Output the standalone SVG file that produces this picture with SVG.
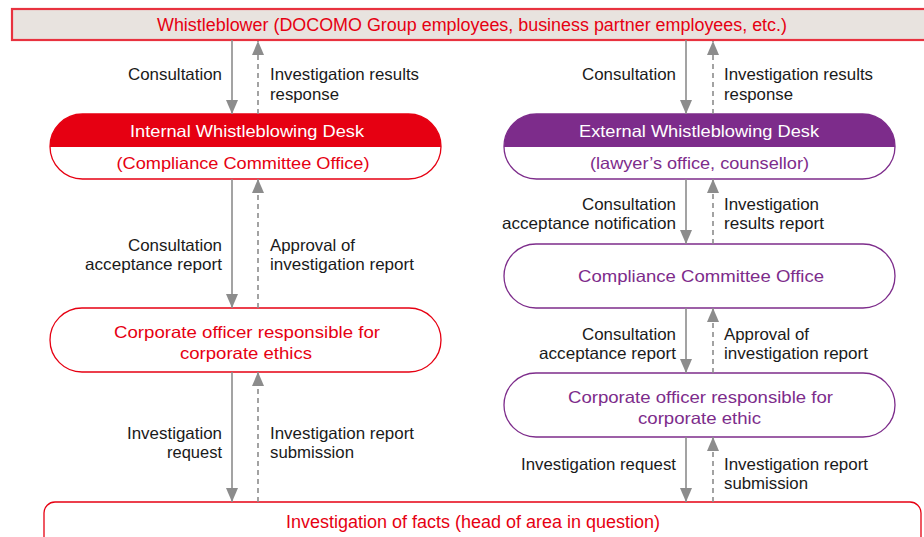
<svg xmlns="http://www.w3.org/2000/svg" width="924" height="537" viewBox="0 0 924 537">
<style>
text{font-family:"Liberation Sans",Arial,sans-serif;font-size:16.5px}
.big{font-size:17.5px}
.lbl{fill:#1a1a1a}
.red{fill:#e60012}
.pur{fill:#7d2c8b}
.wht{fill:#ffffff}
.c{text-anchor:middle}
.e{text-anchor:end}
.solid{stroke:#8c8c8c;stroke-width:1.6;fill:none;marker-end:url(#ah)}
.dash{stroke:#8c8c8c;stroke-width:1.6;fill:none;stroke-dasharray:5 4;marker-end:url(#ah)}
.nr{fill:#fff;stroke:#e60012;stroke-width:1.3}
.np{fill:#fff;stroke:#7d2c8b;stroke-width:1.3}
</style>
<defs>
<marker id="ah" markerUnits="userSpaceOnUse" markerWidth="14" markerHeight="14" viewBox="0 0 14 12" refX="14" refY="6" orient="auto">
<path d="M0,0 L14,6 L0,12 Z" fill="#8c8c8c"/>
</marker>
<clipPath id="cl1"><rect x="50" y="114" width="391" height="65" rx="32.5"/></clipPath>
<clipPath id="cl2"><rect x="504" y="114" width="391" height="65" rx="32.5"/></clipPath>
</defs>
<rect width="924" height="537" fill="#fff"/>

<g id="whistleblower">
<rect x="12" y="9" width="920" height="31" fill="#e8e3df" stroke="#e8323f" stroke-width="2.2"/>
<text x="472" y="30.5" class="red c big" textLength="630" lengthAdjust="spacingAndGlyphs">Whistleblower (DOCOMO Group employees, business partner employees, etc.)</text>
</g>

<g id="internal-desk">
<rect x="50" y="114" width="391" height="65" rx="32.5" fill="#fff"/>
<rect x="50" y="114" width="391" height="33" fill="#e60012" clip-path="url(#cl1)"/>
<rect x="50" y="114" width="391" height="65" rx="32.5" fill="none" stroke="#e60012" stroke-width="1.3"/>
<text x="247" y="137" class="wht c" textLength="234" lengthAdjust="spacingAndGlyphs">Internal Whistleblowing Desk</text>
<text x="243" y="169" class="red c" textLength="253" lengthAdjust="spacingAndGlyphs">(Compliance Committee Office)</text>
</g>

<g id="external-desk">
<rect x="504" y="114" width="391" height="65" rx="32.5" fill="#fff"/>
<rect x="504" y="114" width="391" height="33" fill="#7d2c8b" clip-path="url(#cl2)"/>
<rect x="504" y="114" width="391" height="65" rx="32.5" fill="none" stroke="#7d2c8b" stroke-width="1.3"/>
<text x="699" y="137" class="wht c" textLength="240" lengthAdjust="spacingAndGlyphs">External Whistleblowing Desk</text>
<text x="699.5" y="169" class="pur c" textLength="219" lengthAdjust="spacingAndGlyphs">(lawyer’s office, counsellor)</text>
</g>

<g id="compliance-office">
<rect x="504" y="244" width="391" height="64" rx="32" class="np"/>
<text x="701" y="282" class="pur c" textLength="246" lengthAdjust="spacingAndGlyphs">Compliance Committee Office</text>
</g>

<g id="officer-left">
<rect x="50" y="308" width="391" height="64" rx="32" class="nr"/>
<text x="247" y="338" class="red c" textLength="266" lengthAdjust="spacingAndGlyphs">Corporate officer responsible for</text>
<text x="246" y="359" class="red c" textLength="132" lengthAdjust="spacingAndGlyphs">corporate ethics</text>
</g>

<g id="officer-right">
<rect x="504" y="373" width="391" height="64" rx="32" class="np"/>
<text x="700.5" y="403" class="pur c" textLength="265" lengthAdjust="spacingAndGlyphs">Corporate officer responsible for</text>
<text x="699.5" y="424" class="pur c" textLength="123" lengthAdjust="spacingAndGlyphs">corporate ethic</text>
</g>

<g id="investigation">
<rect x="44" y="502" width="877" height="60" rx="11" class="nr" stroke-width="2"/>
<text x="473" y="527.5" class="red c big" textLength="374" lengthAdjust="spacingAndGlyphs">Investigation of facts (head of area in question)</text>
</g>

<g id="connectors">
<line x1="232" y1="40" x2="232" y2="114" class="solid"/>
<line x1="258" y1="114" x2="258" y2="41" class="dash"/>
<line x1="686" y1="40" x2="686" y2="114" class="solid"/>
<line x1="713" y1="114" x2="713" y2="41" class="dash"/>
<line x1="232" y1="179" x2="232" y2="308" class="solid"/>
<line x1="258" y1="308" x2="258" y2="179" class="dash"/>
<line x1="232" y1="372" x2="232" y2="502" class="solid"/>
<line x1="258" y1="502" x2="258" y2="372" class="dash"/>
<line x1="686" y1="179" x2="686" y2="244" class="solid"/>
<line x1="713" y1="244" x2="713" y2="179" class="dash"/>
<line x1="686" y1="308" x2="686" y2="373" class="solid"/>
<line x1="713" y1="373" x2="713" y2="308" class="dash"/>
<line x1="686" y1="437" x2="686" y2="502" class="solid"/>
<line x1="713" y1="502" x2="713" y2="437" class="dash"/>
</g>

<g id="labels">
<text x="222" y="80" class="lbl e" textLength="94" lengthAdjust="spacingAndGlyphs">Consultation</text>
<text x="270" y="80" class="lbl" textLength="149" lengthAdjust="spacingAndGlyphs">Investigation results</text>
<text x="270" y="100" class="lbl" textLength="69" lengthAdjust="spacingAndGlyphs">response</text>
<text x="676" y="80" class="lbl e" textLength="94" lengthAdjust="spacingAndGlyphs">Consultation</text>
<text x="724" y="80" class="lbl" textLength="149" lengthAdjust="spacingAndGlyphs">Investigation results</text>
<text x="724" y="100" class="lbl" textLength="69" lengthAdjust="spacingAndGlyphs">response</text>

<text x="222" y="251" class="lbl e" textLength="94" lengthAdjust="spacingAndGlyphs">Consultation</text>
<text x="222" y="270" class="lbl e" textLength="137" lengthAdjust="spacingAndGlyphs">acceptance report</text>
<text x="270" y="251" class="lbl" textLength="85" lengthAdjust="spacingAndGlyphs">Approval of</text>
<text x="270" y="270" class="lbl" textLength="144" lengthAdjust="spacingAndGlyphs">investigation report</text>

<text x="676" y="210" class="lbl e" textLength="94" lengthAdjust="spacingAndGlyphs">Consultation</text>
<text x="676" y="229" class="lbl e" textLength="174" lengthAdjust="spacingAndGlyphs">acceptance notification</text>
<text x="724" y="210" class="lbl" textLength="95" lengthAdjust="spacingAndGlyphs">Investigation</text>
<text x="724" y="229" class="lbl" textLength="100" lengthAdjust="spacingAndGlyphs">results report</text>

<text x="676" y="340" class="lbl e" textLength="94" lengthAdjust="spacingAndGlyphs">Consultation</text>
<text x="676" y="359" class="lbl e" textLength="137" lengthAdjust="spacingAndGlyphs">acceptance report</text>
<text x="724" y="340" class="lbl" textLength="85" lengthAdjust="spacingAndGlyphs">Approval of</text>
<text x="724" y="359" class="lbl" textLength="144" lengthAdjust="spacingAndGlyphs">investigation report</text>

<text x="222" y="439" class="lbl e" textLength="95" lengthAdjust="spacingAndGlyphs">Investigation</text>
<text x="222" y="458" class="lbl e" textLength="55" lengthAdjust="spacingAndGlyphs">request</text>
<text x="270" y="439" class="lbl" textLength="144" lengthAdjust="spacingAndGlyphs">Investigation report</text>
<text x="270" y="458" class="lbl" textLength="84" lengthAdjust="spacingAndGlyphs">submission</text>

<text x="676" y="470" class="lbl e" textLength="155" lengthAdjust="spacingAndGlyphs">Investigation request</text>
<text x="724" y="470" class="lbl" textLength="144" lengthAdjust="spacingAndGlyphs">Investigation report</text>
<text x="724" y="489" class="lbl" textLength="84" lengthAdjust="spacingAndGlyphs">submission</text>
</g>
</svg>
